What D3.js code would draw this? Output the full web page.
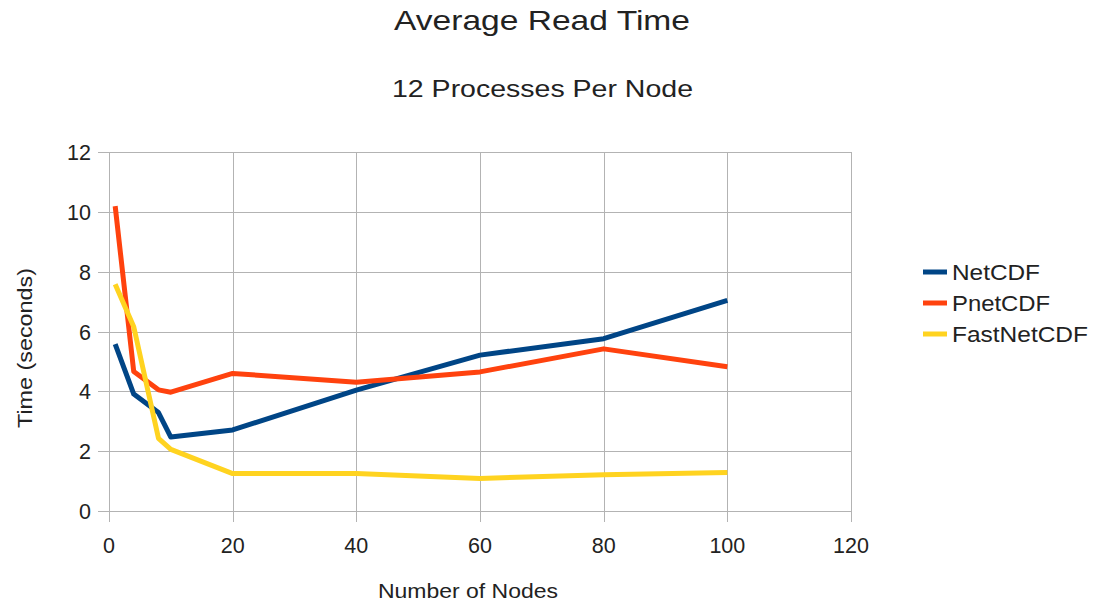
<!DOCTYPE html>
<html>
<head>
<meta charset="utf-8">
<script src="https://cdn.jsdelivr.net/npm/d3@7"></script>
<style>
  body { margin: 0; background: #fff; }
  text { font-family: 'Liberation Sans', Arial, sans-serif; fill: #222; }
</style>
</head>
<body>
<svg id="chart" width="1094" height="602"></svg>
<script>
// Data
const nodes = [1, 4, 8, 10, 20, 40, 60, 80, 100]
const netcdf = [5.58, 3.91, 3.29, 2.47, 2.71, 4.04, 5.21, 5.76, 7.04]
const pnetcdf = [10.19, 4.66, 4.05, 3.97, 4.6, 4.3, 4.65, 5.42, 4.82]
const fastnetcdf = [7.58, 6.16, 2.43, 2.06, 1.25, 1.25, 1.09, 1.21, 1.29]
const seriesNames = ['NetCDF', 'PnetCDF', 'FastNetCDF']
const seriesColors = ['#004586', '#ff420e', '#ffd320']
const xTicks = [0, 20, 40, 60, 80, 100, 120]
const yTicks = [0, 2, 4, 6, 8, 10, 12]

const series = [netcdf, pnetcdf, fastnetcdf]

const margin = { left: 109, top: 152, right: 851, bottom: 511 }
const svg = d3.select('#chart')

const x = d3.scaleLinear().domain([0, 120]).range([margin.left, margin.right])
const y = d3.scaleLinear().domain([0, 12]).range([margin.bottom, margin.top])

// gridlines (ticks stick out past the axes)
const grid = svg.append('g').attr('stroke', '#b3b3b3').attr('stroke-width', 1)
grid.selectAll('.hg').data(yTicks).join('line')
  .attr('x1', margin.left - 11).attr('x2', margin.right)
  .attr('y1', d => Math.round(y(d)) + 0.5).attr('y2', d => Math.round(y(d)) + 0.5)
grid.selectAll('.vg').data(xTicks).join('line')
  .attr('y1', margin.top).attr('y2', margin.bottom + 11)
  .attr('x1', d => Math.round(x(d)) + 0.5).attr('x2', d => Math.round(x(d)) + 0.5)

// tick labels
svg.append('g').selectAll('text').data(yTicks).join('text')
  .attr('x', margin.left - 18).attr('y', d => y(d) + 8)
  .attr('text-anchor', 'end').attr('font-size', 21.5)
  .text(d => d)
svg.append('g').selectAll('text').data(xTicks).join('text')
  .attr('x', d => x(d)).attr('y', margin.bottom + 42)
  .attr('text-anchor', 'middle').attr('font-size', 21.5)
  .text(d => d)

// lines
const line = d3.line().x((d, i) => x(nodes[i])).y(d => y(d))
svg.append('g').selectAll('path').data(series).join('path')
  .attr('d', line)
  .attr('fill', 'none')
  .attr('stroke', (d, i) => seriesColors[i])
  .attr('stroke-width', 5)
  .attr('stroke-linejoin', 'round')

// titles
svg.append('text').attr('x', 542).attr('y', 30).attr('text-anchor', 'middle')
  .attr('font-size', 28).attr('textLength', 296).attr('lengthAdjust', 'spacingAndGlyphs')
  .text('Average Read Time')
svg.append('text').attr('x', 542.5).attr('y', 97).attr('text-anchor', 'middle')
  .attr('font-size', 24).attr('textLength', 301).attr('lengthAdjust', 'spacingAndGlyphs')
  .text('12 Processes Per Node')

// axis titles
svg.append('text').attr('x', 468).attr('y', 598).attr('text-anchor', 'middle')
  .attr('font-size', 21).attr('textLength', 180).attr('lengthAdjust', 'spacingAndGlyphs')
  .text('Number of Nodes')
svg.append('text').attr('transform', 'translate(31.5,348) rotate(-90)')
  .attr('text-anchor', 'middle').attr('font-size', 21)
  .attr('textLength', 160).attr('lengthAdjust', 'spacingAndGlyphs')
  .text('Time (seconds)')

// legend
const legendLengths = [88, 98, 136]
const legend = svg.append('g').attr('transform', 'translate(923,272)')
const item = legend.selectAll('g').data(seriesNames).join('g')
  .attr('transform', (d, i) => `translate(0,${i * 31})`)
item.append('line').attr('x1', 0).attr('x2', 24).attr('y1', 0).attr('y2', 0)
  .attr('stroke', (d, i) => seriesColors[i]).attr('stroke-width', 5)
item.append('text').attr('x', 29).attr('y', 8).attr('font-size', 22.5)
  .attr('textLength', (d, i) => legendLengths[i]).attr('lengthAdjust', 'spacingAndGlyphs')
  .text(d => d)
</script>
</body>
</html>
